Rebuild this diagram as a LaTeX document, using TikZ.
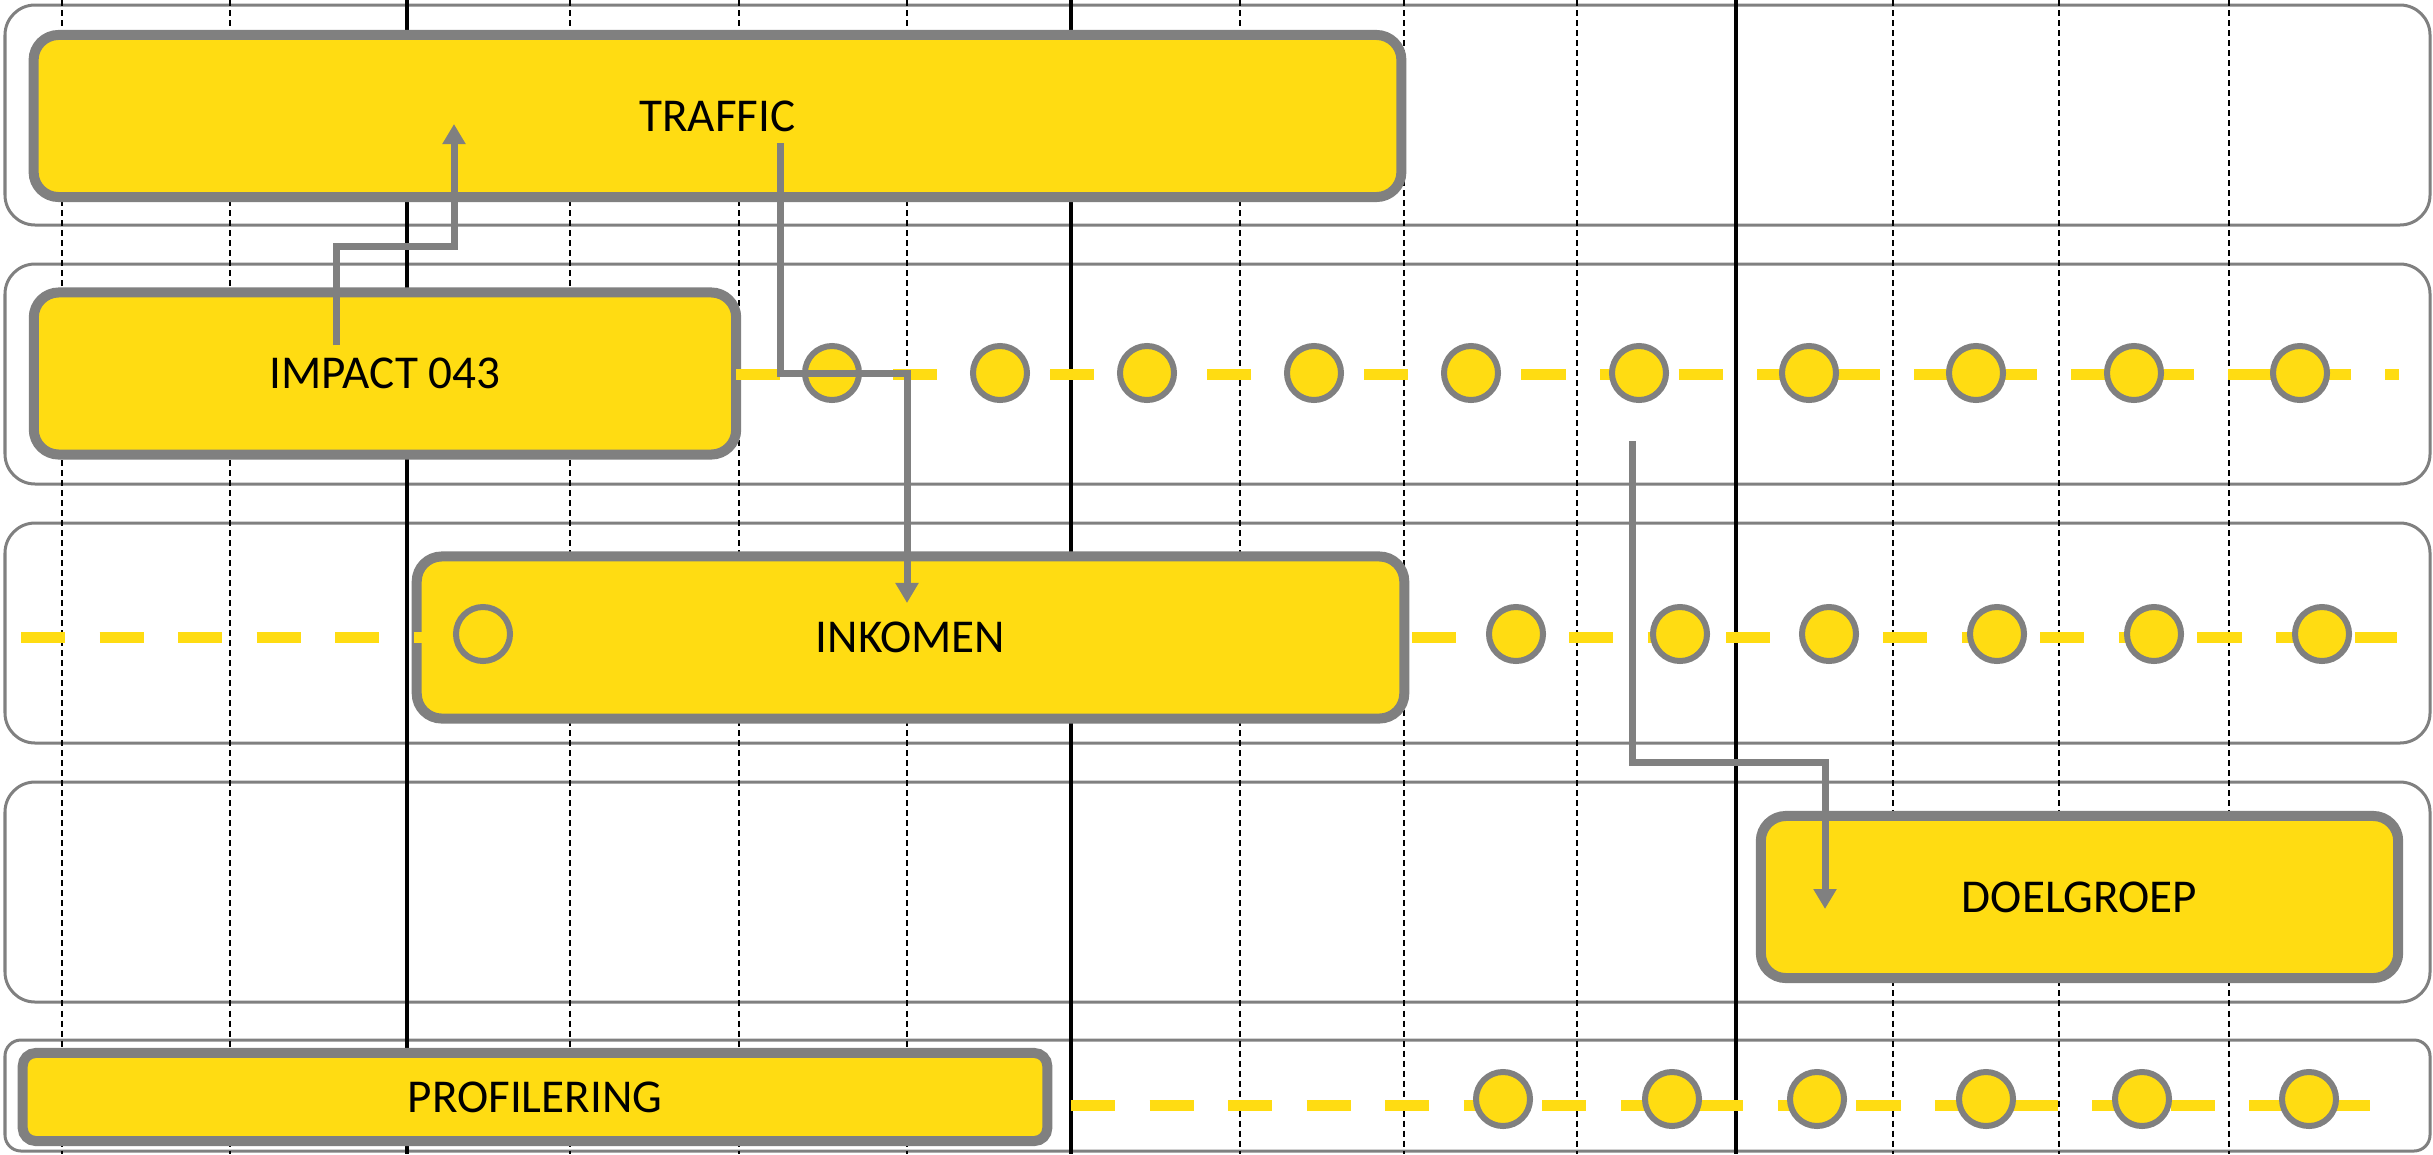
\documentclass[tikz,border=0pt]{standalone}
\usepackage{fontspec}
\setmainfont{Carlito}
\usetikzlibrary{arrows.meta}

\definecolor{linegray}{RGB}{128,128,128}
\definecolor{boxyellow}{HTML}{FFDC12}

\begin{document}
\begin{tikzpicture}[
	% pixel units, y runs down:
	x=0.01cm,
	y=-0.01cm,
	font=\fontsize{13.4}{16}\selectfont,
	lane/.style={draw=linegray,line width=0.03cm,rounded corners=0.3cm},
	gridline/.style={black,line width=0.02cm,dash pattern=on 0.06cm off 0.04cm},
	phase/.style={black,line width=0.045cm},
	taskbox/.style={draw=linegray,line width=0.1cm,fill=boxyellow,rounded corners=0.25cm,
		inner sep=0,outer sep=0,minimum height=1.62cm},
	track/.style={boxyellow,line width=0.11cm,dash pattern=on 0.44cm off 0.345cm},
	milestone/.style={circle,draw=linegray,line width=0.06cm,fill=boxyellow,
		minimum size=0.54cm,inner sep=0},
	link/.style={-{Triangle[width=0.22cm,length=0.2cm]},linegray,line width=0.07cm}
	]
	\useasboundingbox (0,0) rectangle (2433,1154);
	
	%
	% Lanes
	%
	\foreach \ly in {5,264,523,782}{
		\draw[lane] (5,\ly) rectangle (2430,{\ly+220});
	}
	\draw[lane,rounded corners=0.16cm] (5,1040) rectangle (2430,1151);
	
	% time grid
	\foreach \gx in {62,230,570,739,907,1240,1404,1577,1893,2059,2229}{
		\draw[gridline] (\gx,0) -- (\gx,1154);
	}
	\foreach \gx in {407,1071,1736}{
		\draw[phase] (\gx,0) -- (\gx,1154);
	}
	
	%
	% Tasks
	%
	\node[taskbox,minimum width=13.67cm] (traffic) at (717.5,116) {TRAFFIC};
	\node[taskbox,minimum width=7.02cm] (impact) at (385,373.5) {IMPACT 043};
	\node[taskbox,minimum width=9.87cm] (inkomen) at (910.5,637.5) {INKOMEN};
	\node[taskbox,minimum width=6.37cm] (doelgroep) at (2079.5,897) {DOELGROEP};
	\node[taskbox,minimum width=10.24cm,minimum height=0.88cm,rounded corners=0.13cm]
		(profilering) at (535,1097) {PROFILERING};
	
	% dashed tracks
	\draw[track] (736,374) -- (2399,374);
	\draw[track] (21,637) -- (422,637);
	\draw[track] (1412,637) -- (2397,637);
	\draw[track] (1071,1105) -- (2370,1105);
	
	% milestones
	\foreach \cx [count=\i] in {832,1000,1147,1314,1471,1639,1809,1976,2134,2300}{
		\node[milestone] (ma-\i) at (\cx,373) {};
	}
	\foreach \cx [count=\i] in {483,1516,1680,1829,1997,2154,2322}{
		\node[milestone] (mb-\i) at (\cx,634) {};
	}
	\foreach \cx [count=\i] in {1503,1672,1817,1986,2142,2309}{
		\node[milestone] (mc-\i) at (\cx,1099) {};
	}
	
	%
	% Links
	%
	\coordinate (impact-out) at (336,345);
	\coordinate (bend-a) at (454,246);
	\coordinate (traffic-in) at (454,124);
	\draw[link] (impact-out) |- (bend-a) -- (traffic-in);
	
	\coordinate (traffic-out) at (780,143);
	\coordinate (bend-b) at (907,373);
	\coordinate (inkomen-in) at (907,603);
	\draw[link] (traffic-out) |- (bend-b) -- (inkomen-in);
	
	\coordinate (ma-out) at (1632,441);
	\coordinate (bend-c) at (1825,762);
	\coordinate (doelgroep-in) at (1825,909);
	\draw[link] (ma-out) |- (bend-c) -- (doelgroep-in);
\end{tikzpicture}
\end{document}
